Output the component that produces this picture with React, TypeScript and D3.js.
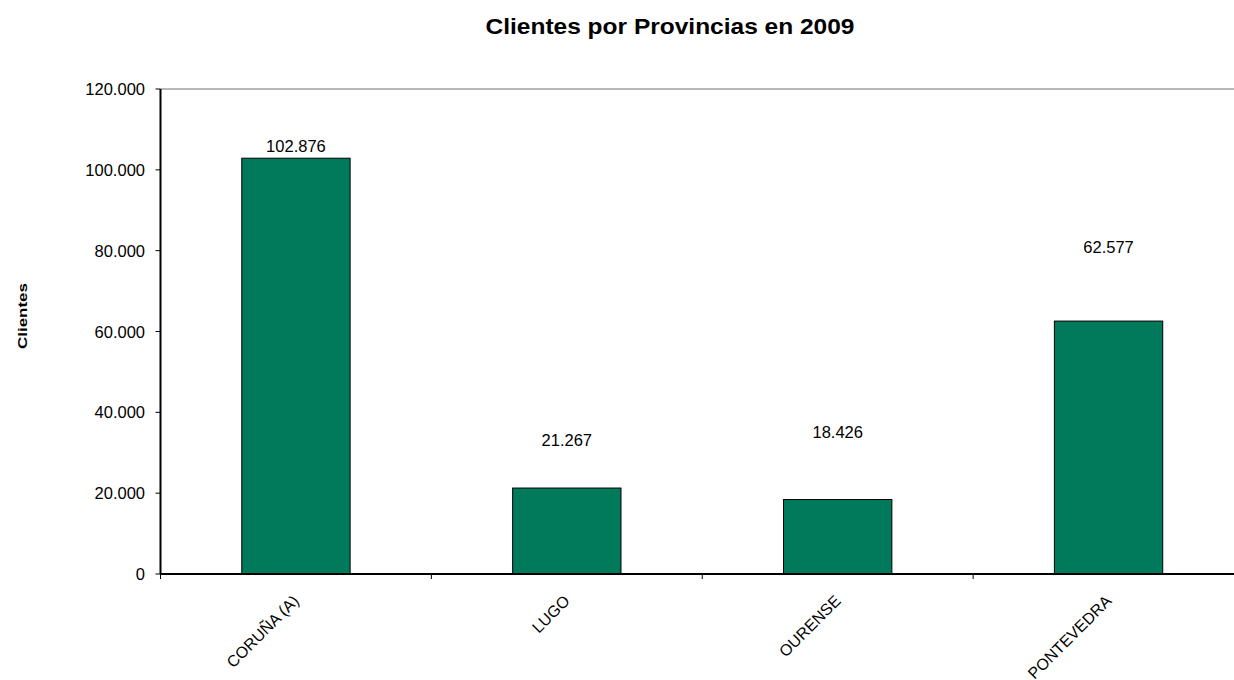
import React from "react";
import * as d3 from "d3";

const categories = ["CORUÑA (A)", "LUGO", "OURENSE", "PONTEVEDRA"];
const clientes = [102876, 21267, 18426, 62577];
const yTicks = [0, 20000, 40000, 60000, 80000, 100000, 120000];

const W = 1234;
const H = 680;
const left = 160.5;
const right = 1244;
const top = 89;
const bottom = 574;
const font = "'Liberation Sans', Arial, sans-serif";
// label lift above bar top (px), mimicking the original placement
const labelLift = [6, 42, 62, 68];

const fmtNum = (v: number) => {
  const s = Math.round(v).toString();
  return s.replace(/\B(?=(\d{3})+(?!\d))/g, ".");
};

export default function App() {
  const x = d3.scaleBand<string>().domain(categories).range([left, right]).paddingInner(0).paddingOuter(0);
  const y = d3.scaleLinear().domain([0, 120000]).range([bottom, top]);
  const bw = x.bandwidth() * 0.4;
  return (
    <svg width={W} height={H} style={{ position: "absolute", left: 0, top: 0, background: "#fff" }} fontFamily={font}>
      <text x={670} y={34} textAnchor="middle" fontSize={22} fontWeight="bold" textLength={369} lengthAdjust="spacingAndGlyphs">
        Clientes por Provincias en 2009
      </text>
      <text
        transform={`translate(27,316) rotate(-90)`}
        textAnchor="middle"
        fontSize={13.5}
        fontWeight="bold"
        textLength={66}
        lengthAdjust="spacingAndGlyphs"
      >
        Clientes
      </text>
      <line x1={left} x2={W} y1={y(120000)} y2={y(120000)} stroke="#a0a0a0" strokeWidth={1.5} />
      {categories.map((c, i) => {
        const cx = (x(c) as number) + x.bandwidth() / 2;
        return (
          <g key={c}>
            <rect
              x={cx - bw / 2}
              y={y(clientes[i])}
              width={bw}
              height={bottom - y(clientes[i])}
              fill="#007A5A"
              stroke="#000"
              strokeWidth={1}
            />
            <text x={cx} y={y(clientes[i]) - labelLift[i]} textAnchor="middle" fontSize={16.5} fill="#000">
              {fmtNum(clientes[i])}
            </text>
            <text
              transform={`translate(${cx + 4},${bottom + 28}) rotate(-45)`}
              textAnchor="end"
              fontSize={16}
              fill="#000"
            >
              {c}
            </text>
          </g>
        );
      })}
      {yTicks.map((t) => (
        <g key={t}>
          <line x1={left - 5} x2={left} y1={y(t)} y2={y(t)} stroke="#000" strokeWidth={1} />
          <text x={145} y={y(t) + 6} textAnchor="end" fontSize={16.5} fill="#000">
            {fmtNum(t)}
          </text>
        </g>
      ))}
      {categories.map((c, i) =>
        i === 0 ? null : (
          <line key={"t" + c} x1={x(c)} x2={x(c)} y1={bottom} y2={bottom + 5} stroke="#000" strokeWidth={1} />
        )
      )}
      <line x1={left} x2={left} y1={top} y2={bottom} stroke="#000" strokeWidth={2} />
      <line x1={left} x2={right} y1={bottom} y2={bottom} stroke="#000" strokeWidth={2} />
      <line x1={left} x2={left} y1={bottom} y2={bottom + 5} stroke="#000" strokeWidth={1} />
    </svg>
  );
}
